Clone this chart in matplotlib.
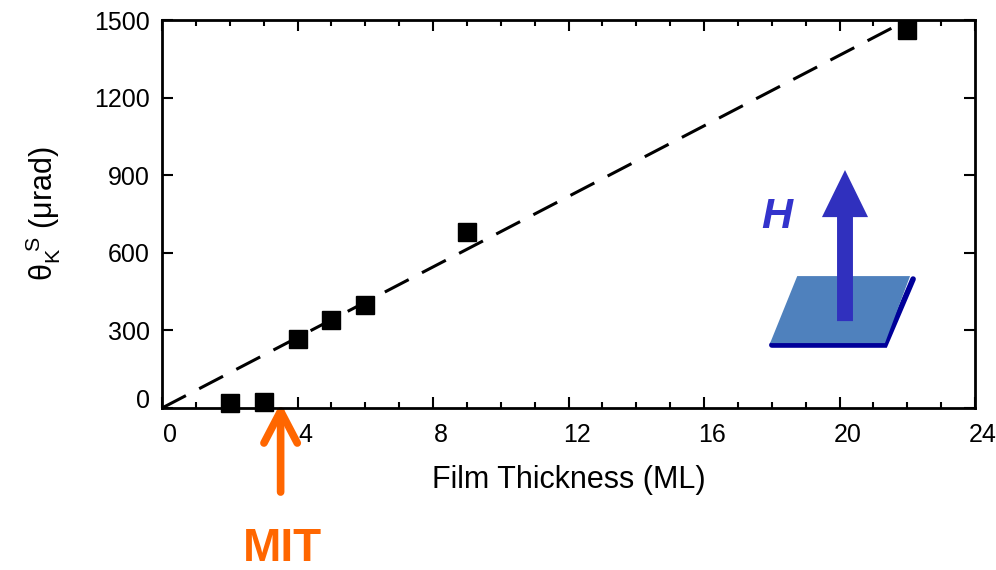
import numpy as np
import matplotlib.pyplot as plt
import matplotlib.patches as mpatches
from matplotlib.transforms import ScaledTranslation

plt.rcParams['font.family'] = ['Liberation Sans', 'DejaVu Sans']
plt.rcParams['mathtext.fontset'] = 'custom'
plt.rcParams['mathtext.rm'] = 'Liberation Sans'
plt.rcParams['mathtext.it'] = 'Liberation Sans:italic'

# Kerr rotation at saturation vs film thickness
thickness = [2.0, 3.0, 4.0, 5.0, 6.0, 9.0, 22.0]
kerr = [20, 25, 265, 340, 400, 680, 1460]

# linear guide through the origin
fit_x = [0, 22]
fit_y = [0, 1500]

x_ticks = [0, 4, 8, 12, 16, 20, 24]
y_ticks = [0, 300, 600, 900, 1200, 1500]

mit_thickness = 3.5

fig = plt.figure(figsize=(9.96, 5.70), dpi=100)
ax = fig.add_axes([0.1627, 0.2842, 0.8163, 0.6807])

ax.plot(fit_x, fit_y, color='black', lw=2.2, dashes=(8.8, 4.9), zorder=2)
ax.plot(thickness, kerr, 's', color='black', ms=13, clip_on=False, zorder=3)

ax.set_xlim(0, 24)
ax.set_ylim(0, 1500)
ax.set_xticks(x_ticks)
ax.set_xticks(np.arange(0, 25, 1), minor=True)
ax.set_yticks(y_ticks)

for s in ax.spines.values():
    s.set_linewidth(2)
    s.set_zorder(4)
ax.tick_params(which='both', direction='in', top=True, right=True, width=1.5)
ax.tick_params(which='major', length=8, labelsize=18)
ax.tick_params(which='minor', length=4.5)
ax.tick_params(axis='x', pad=11)
ax.tick_params(axis='y', pad=9)

# x tick labels sit a bit to the right of their ticks
shift = ScaledTranslation(8 / 100, 0, fig.dpi_scale_trans)
for lab in ax.get_xticklabels():
    lab.set_transform(lab.get_transform() + shift)
# lift the zero so it clears the x labels
lift = ScaledTranslation(0, 10 / 100, fig.dpi_scale_trans)
ylabs = ax.get_yticklabels()
ylabs[0].set_transform(ylabs[0].get_transform() + lift)

ax.set_xlabel('Film Thickness (ML)', fontsize=22, labelpad=13)
ax.set_ylabel(r'$\mathrm{\theta}_{\mathrm{K}}^{\ \ \mathrm{S}}$ (μrad)', fontsize=22, labelpad=22)

# MIT marker below the axis
ax.annotate('', xy=(mit_thickness, 20), xytext=(mit_thickness, -325),
            xycoords='data', textcoords='data', annotation_clip=False,
            arrowprops=dict(arrowstyle='->, head_length=1.15, head_width=0.6',
                            color='#FF6600', lw=5.5, shrinkA=0, shrinkB=0,
                            mutation_scale=20, capstyle='round', joinstyle='round'))
ax.text(mit_thickness + 0.05, -593, 'MIT', color='#FF6600', fontsize=33,
        fontweight='bold', ha='center', va='baseline', clip_on=False)

# sketch: film with perpendicular field
ax.plot([18.0, 21.34, 22.17], [243.5, 243.5, 498.6], color='#000099', lw=4,
        solid_capstyle='round', solid_joinstyle='miter', zorder=4)
film = mpatches.Polygon([(18.75, 510), (22.08, 510), (21.34, 251), (17.95, 251)],
                        closed=True, facecolor='#4F81BD', edgecolor='none', zorder=5)
ax.add_patch(film)
field = mpatches.FancyArrow(20.16, 336, 0, 584, width=0.47, head_width=1.36,
                            head_length=182, length_includes_head=True,
                            facecolor='#3030BE', edgecolor='none', zorder=6)
ax.add_patch(field)
ax.text(18.15, 696, 'H', color='#3333CC', fontsize=31, fontweight='bold',
        fontstyle='italic', ha='center', va='baseline', zorder=6)

fig.savefig('out.png', dpi=100)
